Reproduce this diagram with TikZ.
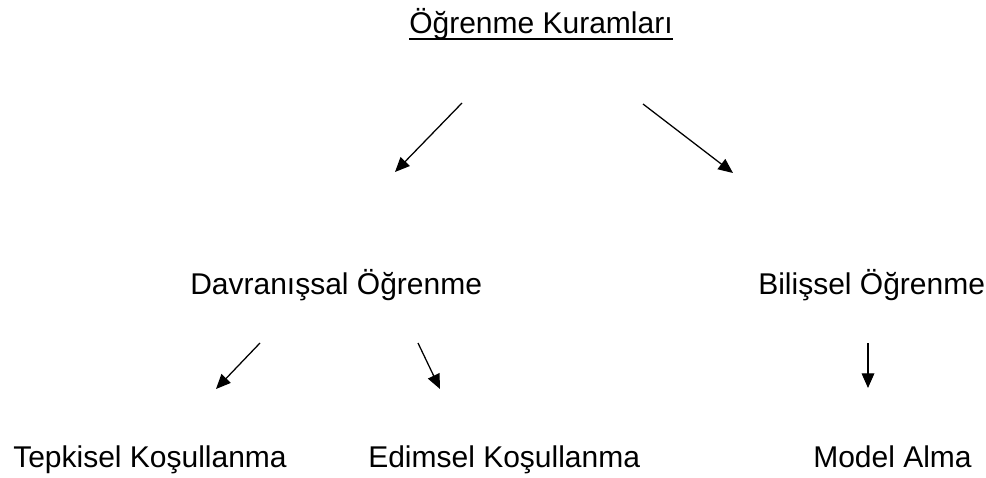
\documentclass[tikz,border=0pt]{standalone}
\usepackage{fontspec}
\setmainfont{Liberation Sans}
\usetikzlibrary{arrows.meta}

\begin{document}
\begin{tikzpicture}[x=0.75pt,y=-0.75pt,
    every node/.style={font=\fontsize{22.5}{27}\selectfont, inner sep=0pt, anchor=base west},
    okbas/.style={-{Triangle[length=11pt,width=9.5pt]}, line width=0.95pt}]
    \useasboundingbox (0,0) rectangle (986,478);

    \node (kuram) at (409,34) {Öğrenme Kuramları};
    \draw[line width=1.5pt] ([yshift=-3.8pt]kuram.base west) -- ([yshift=-3.8pt]kuram.base east);

    \node (davranis) at (190,294) {Davranışsal Öğrenme};
    \node (bilissel) at (758,294) {Bilişsel Öğrenme};
    \node (tepkisel) at (13,467) {Tepkisel Koşullanma};
    \node (edimsel) at (368,467) {Edimsel Koşullanma};
    \node (model) at (813,467) {Model Alma};

    \coordinate (K1) at (462,103);
    \coordinate (K2) at (395,172);
    \coordinate (K3) at (643,104);
    \coordinate (K4) at (733,173);
    \draw[okbas] (K1) -- (K2);
    \draw[okbas] (K3) -- (K4);

    \coordinate (D1) at (260,343);
    \coordinate (D2) at (216,389);
    \coordinate (D3) at (418,343);
    \coordinate (D4) at (440,389);
    \draw[okbas] (D1) -- (D2);
    \draw[okbas] (D3) -- (D4);

    \coordinate (B1) at (868,343);
    \coordinate (B2) at (868,388);
    \draw[okbas] (B1) -- (B2);
\end{tikzpicture}
\end{document}
